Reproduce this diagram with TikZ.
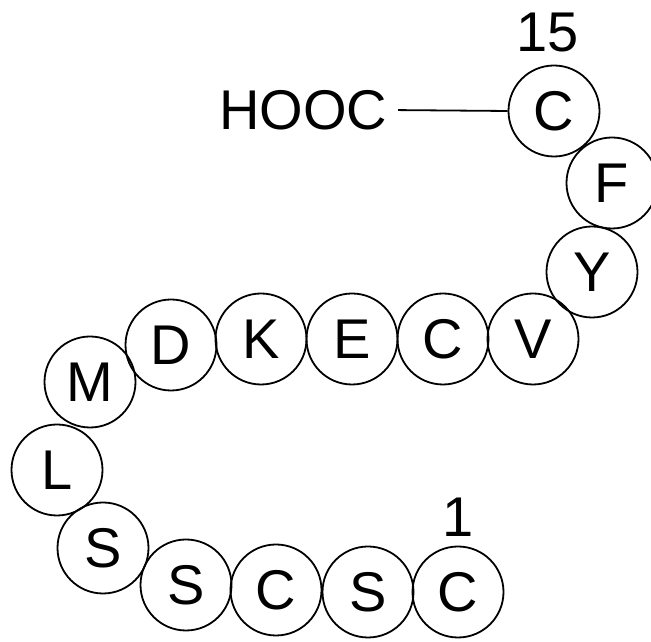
\documentclass[tikz,border=0pt]{standalone}
\usepackage{fontspec}
\setmainfont{Liberation Sans}
\begin{document}
\begin{tikzpicture}[x=1pt,y=1pt,
  aa/.style={circle,draw,line width=1.8pt,minimum size=91pt,inner sep=0pt,
    font=\fontsize{56}{60}\selectfont},
  lbl/.style={inner sep=0pt,font=\fontsize{56}{60}\selectfont}]
\useasboundingbox (0,0) rectangle (651,642);
% residues (y flipped: 642 - y)
\node[aa] (c15) at (554,531) {C};
\node[aa] (f14) at (612,459) {F};
\node[aa] (y13) at (592,370) {Y};
\node[aa] (v12) at (533,303) {V};
\node[aa] (c11) at (443,303) {C};
\node[aa] (e10) at (352,303) {E};
\node[aa] (k9)  at (261,303) {K};
\node[aa] (d8)  at (171,297) {D};
\node[aa] (m7)  at (90,260) {M};
\node[aa] (l6)  at (57,172) {L};
\node[aa] (s5)  at (103,94) {S};
\node[aa] (s4)  at (186,57) {S};
\node[aa] (c3)  at (276,52) {C};
\node[aa] (s2)  at (368,50) {S};
\node[aa] (c1)  at (458,50) {C};
% labels
\node[lbl] (n15) at (548,609) {15};
\node[lbl] (n1)  at (458,125) {1};
\node[lbl] (hooc) at (303,532) {HOOC};
\draw[line width=1.8pt,shorten <=11pt] (hooc.east) -- (c15.west);
\end{tikzpicture}
\end{document}
